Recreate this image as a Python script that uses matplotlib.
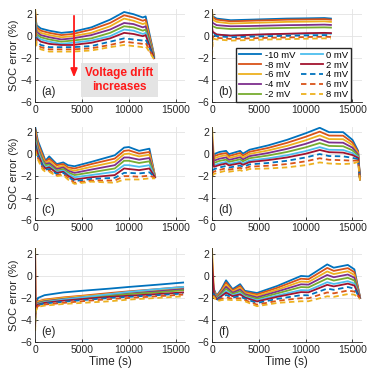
import numpy as np
import matplotlib
matplotlib.use("Agg")
from matplotlib import pyplot as plt

# series: drift voltage labels, colours, line styles
labels = ["-10 mV", "-8 mV", "-6 mV", "-4 mV", "-2 mV",
          "0 mV", "2 mV", "4 mV", "6 mV", "8 mV"]
colors = ["#0072BD", "#D95319", "#EDB120", "#7E2F8E", "#77AC30",
          "#4DBEEE", "#A2142F", "#0072BD", "#D95319", "#EDB120"]
styles = ["-"] * 7 + ["--"] * 3

# panel (a): one row per time point, one column per series
t_a = [0, 150, 600, 1500, 2800, 4000, 6000, 8000, 9500, 10500, 11500, 11800, 12700]
soc_a = [
    [2.0, 2.2, 2.5, 1.8, 1.5, 1.2, 1.0, 0.8, 0.6, 0.4],
    [1.0, 0.8, 0.6, 0.4, 0.2, 0.0, -0.2, -0.5, -0.7, -0.9],
    [0.7, 0.5, 0.3, 0.1, -0.1, -0.3, -0.5, -0.8, -1.0, -1.2],
    [0.5, 0.3, 0.1, -0.1, -0.3, -0.5, -0.7, -1.0, -1.2, -1.4],
    [0.3, 0.1, -0.1, -0.3, -0.5, -0.7, -0.8, -1.0, -1.2, -1.4],
    [0.4, 0.2, 0.0, -0.2, -0.4, -0.6, -0.8, -1.0, -1.2, -1.4],
    [0.8, 0.6, 0.3, 0.1, -0.2, -0.4, -0.6, -0.9, -1.1, -1.3],
    [1.5, 1.2, 0.9, 0.6, 0.3, 0.0, -0.2, -0.5, -0.8, -1.0],
    [2.2, 1.9, 1.6, 1.2, 0.9, 0.6, 0.3, -0.2, -0.5, -0.8],
    [2.0, 1.7, 1.4, 1.1, 0.8, 0.5, 0.2, -0.3, -0.6, -0.9],
    [1.7, 1.4, 1.1, 0.8, 0.5, 0.2, 0.0, -0.4, -0.7, -1.0],
    [1.8, 1.5, 1.2, 0.9, 0.6, 0.3, 0.1, -0.3, -0.6, -0.9],
    [-1.7, -1.8, -1.8, -1.9, -1.9, -2.0, -2.0, -2.0, -2.1, -2.1],
]

# panel (b)
t_b = [0, 80, 500, 2000, 4000, 6000, 8000, 10000, 12000, 12700]
soc_b = [
    [1.9, 2.0, 2.5, 1.4, 1.0, 0.5, 0.8, -0.5, -1.2, -1.8],
    [1.8, 1.7, 1.5, 1.2, 0.9, 0.3, 0.4, 0.2, 0.0, -0.2],
    [1.6, 1.5, 1.3, 1.0, 0.75, 0.15, 0.15, 0.0, -0.15, -0.3],
    [1.45, 1.35, 1.15, 0.9, 0.65, 0.05, 0.05, -0.1, -0.25, -0.4],
    [1.5, 1.4, 1.2, 0.92, 0.68, 0.1, 0.12, -0.05, -0.2, -0.35],
    [1.55, 1.45, 1.25, 0.96, 0.72, 0.15, 0.18, 0.0, -0.15, -0.3],
    [1.6, 1.5, 1.3, 1.0, 0.75, 0.2, 0.22, 0.03, -0.12, -0.27],
    [1.62, 1.52, 1.32, 1.02, 0.78, 0.22, 0.27, 0.07, -0.08, -0.23],
    [1.65, 1.55, 1.35, 1.05, 0.8, 0.25, 0.3, 0.1, -0.05, -0.2],
    [1.6, 1.5, 1.3, 1.02, 0.78, 0.22, 0.28, 0.08, -0.07, -0.22],
]

# panel (c)
t_c = [0, 300, 800, 1100, 1500, 2300, 3000, 3500, 4200, 6000, 8500, 9500, 10000, 11100, 12200, 12800]
soc_c = [
    [2.5, 2.3, 2.1, 1.8, 1.5, 1.2, 1.0, 0.8, 0.5, 0.3],
    [1.2, 1.0, 0.8, 0.6, 0.4, 0.2, 0.0, -0.2, -0.35, -0.5],
    [0.1, -0.1, -0.3, -0.5, -0.6, -0.8, -1.0, -1.1, -1.25, -1.4],
    [-0.6, -0.7, -0.8, -0.9, -1.0, -1.2, -1.3, -1.4, -1.5, -1.6],
    [-0.2, -0.4, -0.6, -0.8, -0.95, -1.1, -1.2, -1.35, -1.5, -1.6],
    [-0.9, -1.0, -1.2, -1.35, -1.5, -1.6, -1.7, -1.8, -1.9, -2.0],
    [-0.75, -0.9, -1.05, -1.2, -1.35, -1.5, -1.6, -1.7, -1.8, -1.9],
    [-1.0, -1.2, -1.35, -1.5, -1.65, -1.8, -1.95, -2.05, -2.15, -2.3],
    [-1.1, -1.3, -1.5, -1.7, -1.9, -2.1, -2.3, -2.45, -2.6, -2.7],
    [-0.7, -0.9, -1.15, -1.4, -1.65, -1.9, -2.1, -2.25, -2.4, -2.5],
    [-0.1, -0.4, -0.7, -1.0, -1.3, -1.6, -1.9, -2.15, -2.4, -2.6],
    [0.6, 0.3, 0.0, -0.3, -0.6, -1.0, -1.3, -1.7, -2.0, -2.3],
    [0.65, 0.35, 0.05, -0.3, -0.6, -1.0, -1.35, -1.7, -2.0, -2.3],
    [0.3, 0.05, -0.2, -0.5, -0.8, -1.15, -1.45, -1.75, -2.05, -2.3],
    [0.5, 0.2, -0.05, -0.35, -0.65, -1.0, -1.3, -1.65, -1.95, -2.2],
    [-2.0, -2.0, -2.0, -2.1, -2.1, -2.1, -2.1, -2.1, -2.15, -2.2],
]

# panel (d)
t_d = [0, 200, 800, 1500, 1800, 3000, 3300, 4000, 6000, 8000, 10000, 11500, 12500, 14000, 15000, 15600, 15800]
soc_d = [
    [-1.0, 0.5, 2.5, 1.5, 1.0, 0.0, 1.0, -1.5, -1.8, -2.0],
    [0.0, -0.2, -0.4, -0.6, -0.8, -1.0, -1.15, -1.37, -1.58, -1.8],
    [0.2, 0.0, -0.2, -0.41, -0.61, -0.84, -0.98, -1.21, -1.43, -1.65],
    [0.3, 0.1, -0.1, -0.3, -0.5, -0.7, -0.85, -1.07, -1.28, -1.5],
    [0.0, -0.18, -0.35, -0.53, -0.7, -0.9, -1.02, -1.22, -1.41, -1.6],
    [0.3, 0.11, -0.09, -0.28, -0.47, -0.68, -0.82, -1.03, -1.24, -1.45],
    [0.05, -0.13, -0.3, -0.48, -0.65, -0.85, -0.97, -1.17, -1.36, -1.55],
    [0.4, 0.21, 0.02, -0.18, -0.37, -0.58, -0.72, -0.93, -1.14, -1.35],
    [0.8, 0.57, 0.34, 0.11, -0.12, -0.38, -0.54, -0.8, -1.05, -1.3],
    [1.3, 1.03, 0.75, 0.48, 0.2, -0.1, -0.3, -0.6, -0.9, -1.2],
    [1.9, 1.58, 1.26, 0.94, 0.62, 0.28, 0.04, -0.3, -0.65, -1.0],
    [2.4, 2.05, 1.71, 1.36, 1.01, 0.64, 0.38, 0.01, -0.37, -0.75],
    [2.0, 1.69, 1.37, 1.06, 0.75, 0.4, 0.18, -0.17, -0.51, -0.85],
    [2.0, 1.68, 1.36, 1.04, 0.72, 0.38, 0.14, -0.2, -0.55, -0.9],
    [1.3, 1.06, 0.83, 0.59, 0.35, 0.1, -0.08, -0.33, -0.59, -0.85],
    [0.3, 0.19, 0.08, -0.03, -0.14, -0.26, -0.34, -0.46, -0.58, -0.7],
    [-2.2, -2.2, -2.25, -2.25, -2.3, -2.3, -2.3, -2.35, -2.35, -2.4],
]

# panel (e)
t_e = [0, 60, 300, 1000, 3000, 5000, 8000, 10000, 13000, 15800]
soc_e = [
    [-4.3, -3.0, 2.5, -3.5, -3.8, -3.2, 1.8, -4.2, -4.6, -5.0],
    [-2.6, -2.9, -2.9, -3.0, -3.0, -3.0, -3.0, -3.1, -3.1, -3.2],
    [-2.0, -2.3, -2.35, -2.45, -2.5, -2.55, -2.6, -2.65, -2.72, -2.8],
    [-1.75, -2.15, -2.2, -2.3, -2.35, -2.4, -2.45, -2.5, -2.6, -2.7],
    [-1.5, -1.95, -2.0, -2.1, -2.15, -2.15, -2.25, -2.35, -2.45, -2.55],
    [-1.35, -1.8, -1.85, -1.95, -2.0, -1.95, -2.1, -2.2, -2.3, -2.45],
    [-1.15, -1.55, -1.65, -1.75, -1.8, -1.65, -1.9, -2.0, -2.1, -2.3],
    [-1.0, -1.4, -1.5, -1.6, -1.65, -1.45, -1.8, -1.9, -2.0, -2.15],
    [-0.8, -1.2, -1.3, -1.4, -1.5, -1.2, -1.65, -1.75, -1.85, -2.0],
    [-0.6, -1.0, -1.1, -1.2, -1.3, -1.0, -1.5, -1.6, -1.7, -1.85],
]

# panel (f)
t_f = [0, 200, 500, 1000, 1500, 2200, 3000, 3500, 4800, 7000, 9500, 10300, 12300, 13000, 14500, 15200, 15800]
soc_f = [
    [-1.0, -0.8, 2.5, 0.5, -0.5, -1.2, 1.5, -1.5, -1.8, -2.0],
    [-1.2, -1.28, -1.35, -1.43, -1.51, -1.59, -1.65, -1.73, -1.82, -1.9],
    [-1.8, -1.86, -1.91, -1.97, -2.02, -2.08, -2.12, -2.18, -2.24, -2.3],
    [-1.2, -1.31, -1.42, -1.53, -1.64, -1.76, -1.84, -1.96, -2.08, -2.2],
    [-0.4, -0.59, -0.79, -0.98, -1.17, -1.38, -1.52, -1.73, -1.94, -2.15],
    [-1.2, -1.31, -1.42, -1.53, -1.64, -1.76, -1.84, -1.96, -2.08, -2.2],
    [-0.75, -0.91, -1.07, -1.23, -1.39, -1.56, -1.68, -1.85, -2.03, -2.2],
    [-1.35, -1.45, -1.56, -1.66, -1.77, -1.88, -1.96, -2.07, -2.19, -2.3],
    [-1.55, -1.68, -1.81, -1.95, -2.08, -2.22, -2.32, -2.46, -2.61, -2.75],
    [-0.9, -1.07, -1.24, -1.41, -1.58, -1.77, -1.89, -2.08, -2.26, -2.45],
    [0.0, -0.25, -0.51, -0.76, -1.01, -1.29, -1.47, -1.75, -2.02, -2.3],
    [-0.05, -0.3, -0.55, -0.79, -1.04, -1.31, -1.49, -1.76, -2.03, -2.3],
    [1.05, 0.73, 0.41, 0.09, -0.23, -0.57, -0.81, -1.15, -1.5, -1.85],
    [0.75, 0.46, 0.17, -0.12, -0.42, -0.73, -0.95, -1.26, -1.58, -1.9],
    [1.0, 0.71, 0.42, 0.13, -0.17, -0.48, -0.7, -1.01, -1.33, -1.65],
    [0.6, 0.35, 0.09, -0.16, -0.41, -0.69, -0.87, -1.15, -1.42, -1.7],
    [-1.9, -1.9, -1.95, -1.95, -2.0, -2.0, -2.0, -2.05, -2.05, -2.1],
]

panels = [("(a)", t_a, soc_a), ("(b)", t_b, soc_b),
          ("(c)", t_c, soc_c), ("(d)", t_d, soc_d),
          ("(e)", t_e, soc_e), ("(f)", t_f, soc_f)]

plt.rcParams["font.family"] = ["Liberation Sans", "DejaVu Sans"]
fig = plt.figure(figsize=(3.7, 3.77), dpi=100)

lefts = [0.095, 0.573]
bottoms = [0.729, 0.416, 0.093]
w, h = 0.405, 0.248

for i, (tag, t, soc) in enumerate(panels):
    row, col = i // 2, i % 2
    ax = fig.add_axes([lefts[col], bottoms[row], w, h])
    vals = np.array(soc).T
    for k in range(10):
        ax.plot(t, vals[k], color=colors[k], linestyle=styles[k], lw=1.3,
                label=labels[k], dashes=(3, 2) if styles[k] == "--" else (None, None))
    ax.set_xlim(0, 16000)
    ax.set_ylim(-6, 2.5)
    ax.set_xticks([0, 5000, 10000, 15000])
    ax.set_yticks([-6, -4, -2, 0, 2])
    ax.grid(True, color="#e3e3e3", lw=0.6)
    ax.set_axisbelow(True)
    ax.spines["top"].set_visible(False)
    ax.spines["right"].set_visible(False)
    for s in ("left", "bottom"):
        ax.spines[s].set_color("#262626")
        ax.spines[s].set_linewidth(0.6)
    ax.tick_params(direction="in", length=2, width=0.6, labelsize=7.5, pad=2,
                   colors="#262626")
    ax.text(0.04, 0.04, tag, transform=ax.transAxes, fontsize=8.5,
            ha="left", va="bottom", color="#262626")
    if col == 0:
        ax.set_ylabel("SOC error (%)", fontsize=8, labelpad=1, color="#262626")
    if row == 2:
        ax.set_xlabel("Time (s)", fontsize=8.5, labelpad=1, color="#262626")
    if tag == "(a)":
        ax.annotate("", xy=(4150, -4.0), xytext=(4150, 2.1),
                    arrowprops=dict(arrowstyle="-|>,head_length=0.5,head_width=0.2",
                                    color="#ff1a1a", lw=1.3))
        ax.text(9000, -4.0, "Voltage drift\nincreases", color="#ff1a1a",
                fontsize=8.5, fontweight="bold", ha="center", va="center",
                linespacing=1.15,
                bbox=dict(facecolor="#e4e4e4", edgecolor="none", pad=3))
    if tag == "(b)":
        ax.legend(ncol=2, loc="lower right", bbox_to_anchor=(0.93, 0.0),
                  borderaxespad=0, fontsize=6.8, handlelength=2.3,
                  handletextpad=0.4, columnspacing=0.6, labelspacing=0.1,
                  borderpad=0.3, fancybox=False, edgecolor="#262626",
                  framealpha=1)

fig.savefig("out.png", dpi=100)
